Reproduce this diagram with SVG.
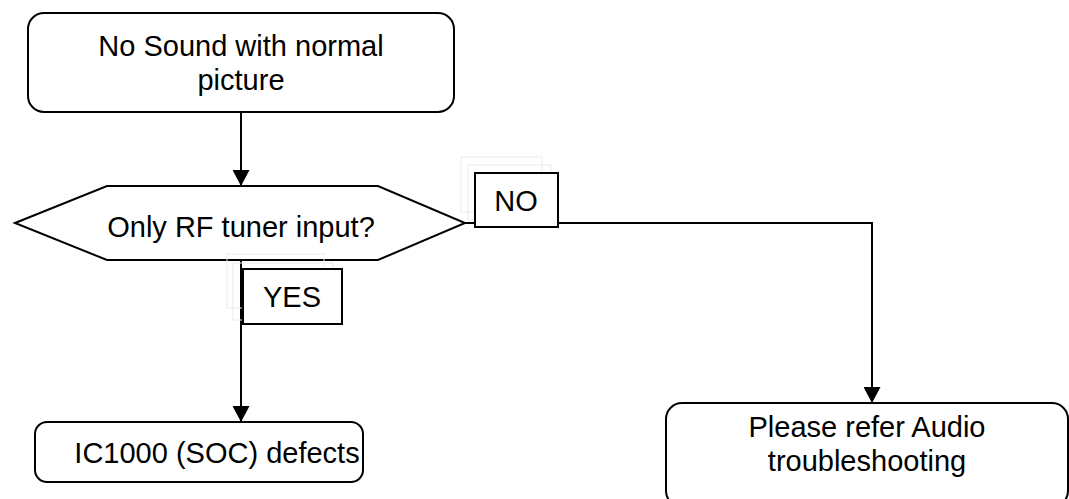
<svg xmlns="http://www.w3.org/2000/svg" width="1069" height="499" viewBox="0 0 1069 499">
<defs>
<style>
.box{fill:#fff;stroke:#000;stroke-width:2}
.lbl{fill:#fff;stroke:#000;stroke-width:2}
.ghost{fill:none;stroke:#ecece6;stroke-width:1}
.t{font-family:"Liberation Sans",Arial,sans-serif;font-size:29px;fill:#000;text-anchor:middle}
.c{fill:none;stroke:#000;stroke-width:2}
</style>
<marker id="ah" viewBox="0 0 16 17" refX="16" refY="8.5" markerWidth="16" markerHeight="17" markerUnits="userSpaceOnUse" orient="auto">
<path d="M0,0 L16,8.5 L0,17 Z" fill="#000"/>
</marker>
</defs>
<rect width="1069" height="499" fill="#fff"/>
<g id="connectors">
<path class="c" d="M241,112 V186" marker-end="url(#ah)"/>
<path class="c" d="M241,260 V422" marker-end="url(#ah)"/>
<path class="c" d="M465,223 H872 V403" marker-end="url(#ah)"/>
</g>
<g id="start">
<rect class="box" x="28" y="13" width="426" height="99" rx="16"/>
<text class="t" x="241" y="56">No Sound with normal</text>
<text class="t" x="241" y="90">picture</text>
</g>
<g id="decision">
<polygon class="box" points="15,223 107,186 378,186 465,223 378,260 107,260"/>
<text class="t" x="241" y="237">Only RF tuner input?</text>
</g>
<g id="label-no">
<rect class="ghost" x="461" y="157" width="81" height="55"/>
<rect class="ghost" x="468" y="165" width="83" height="55"/>
<rect class="lbl" x="475" y="173" width="83" height="54"/>
<text class="t" x="516" y="211">NO</text>
</g>
<g id="label-yes">
<rect class="ghost" x="227" y="254" width="97" height="54"/>
<rect class="ghost" x="233" y="263" width="100" height="57"/>
<rect class="lbl" x="243" y="269" width="99" height="55"/>
<text class="t" x="292" y="307">YES</text>
</g>
<g id="ic1000">
<rect class="box" x="35" y="422" width="328" height="60" rx="12"/>
<text class="t" x="217" y="463">IC1000 (SOC) defects</text>
</g>
<g id="audio">
<rect class="box" x="666" y="403" width="402" height="104" rx="16"/>
<text class="t" x="867" y="437">Please refer Audio</text>
<text class="t" x="867" y="471">troubleshooting</text>
</g>
</svg>
